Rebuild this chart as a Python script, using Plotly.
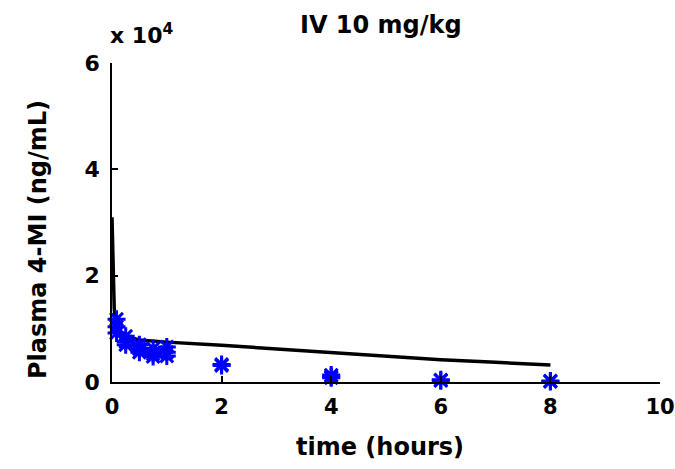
import plotly.graph_objects as go

# Model curve, concentration in ng/mL
line_t = [0, 0.01, 0.02, 0.04, 0.06, 0.1, 0.15, 0.25, 0.5, 1, 2, 3, 4, 5, 6, 7, 8]
line_c = [31000, 25000, 19000, 14000, 11500, 10000, 9300, 8600, 7900, 7500, 6900, 6200, 5500, 4800, 4200, 3700, 3200]

# Observed data (replicates)
obs_t = [0.083, 0.083, 0.083,
         0.25, 0.25, 0.25,
         0.5, 0.5, 0.5,
         0.75, 0.75, 0.75,
         1, 1, 1,
         2, 2,
         4, 4, 4,
         6, 6,
         8, 8]
obs_c = [11800, 10400, 9200,
         8600, 7600, 7000,
         7000, 6200, 5600,
         6300, 5300, 4800,
         6600, 5600, 4900,
         3300, 3100,
         1300, 1000, 800,
         400, 250,
         200, 100]

x_ticks = [0, 2, 4, 6, 8, 10]
y_tickvals = [0, 20000, 40000, 60000]
y_ticktext = ["0", "2", "4", "6"]

FONT = "DejaVu Sans"

fig = go.Figure()
fig.add_trace(go.Scatter(
    x=line_t, y=line_c, mode="lines",
    line=dict(color="black", width=3.5), showlegend=False))
fig.add_trace(go.Scatter(
    x=obs_t, y=obs_c, mode="markers",
    marker=dict(symbol="asterisk-open", size=15, color="#0000ff",
                line=dict(color="#0000ff", width=3)),
    showlegend=False, cliponaxis=False))

fig.update_layout(
    width=675, height=469,
    margin=dict(l=112, r=15, t=63, b=87, autoexpand=False),
    paper_bgcolor="white", plot_bgcolor="white",
    font=dict(family=FONT, size=21, color="black", weight="bold"),
    xaxis=dict(range=[0, 10], tickvals=x_ticks, ticks="inside", ticklen=6,
               tickwidth=1.5, tickcolor="black", automargin=False,
               showline=True, linecolor="black", linewidth=1.5,
               showgrid=False, zeroline=False, ticklabeloverflow="allow",
               ticklabelstandoff=5,
               tickfont=dict(family=FONT, size=21, weight="bold")),
    yaxis=dict(range=[0, 60000], tickvals=y_tickvals, ticktext=y_ticktext,
               ticks="inside", ticklen=6, tickwidth=1.5, tickcolor="black",
               showline=True, linecolor="black", linewidth=1.5, automargin=False,
               showgrid=False, zeroline=False, ticklabeloverflow="allow",
               ticklabelstandoff=6,
               tickfont=dict(family=FONT, size=22, weight="bold")),
    annotations=[
        dict(text="IV 10 mg/kg", x=381, y=469 - 25, showarrow=False,
             font=dict(family=FONT, size=24, weight="bold"),
             xanchor="center", yanchor="middle"),
        dict(text="time (hours)", x=380, y=469 - 447, showarrow=False,
             font=dict(family=FONT, size=24, weight="bold"),
             xanchor="center", yanchor="middle"),
        dict(text="Plasma 4-MI (ng/mL)", x=38, y=469 - 240, showarrow=False,
             textangle=-90, font=dict(family=FONT, size=24, weight="bold"),
             xanchor="center", yanchor="middle"),
        dict(text="x 10<sup>4</sup>", x=108, y=469 - 34, showarrow=False,
             font=dict(family=FONT, size=22, weight="bold"),
             xanchor="left", yanchor="middle"),
    ],
)

# convert pixel-based annotation positions to paper coordinates
W, H = 675, 469
L, R, T, B = 112, 15, 63, 87
pw, ph = W - L - R, H - T - B
for a in fig.layout.annotations:
    a.x = (a.x - L) / pw
    a.y = (a.y - B) / ph
    a.xref = "paper"
    a.yref = "paper"

fig.write_html("out.html")
